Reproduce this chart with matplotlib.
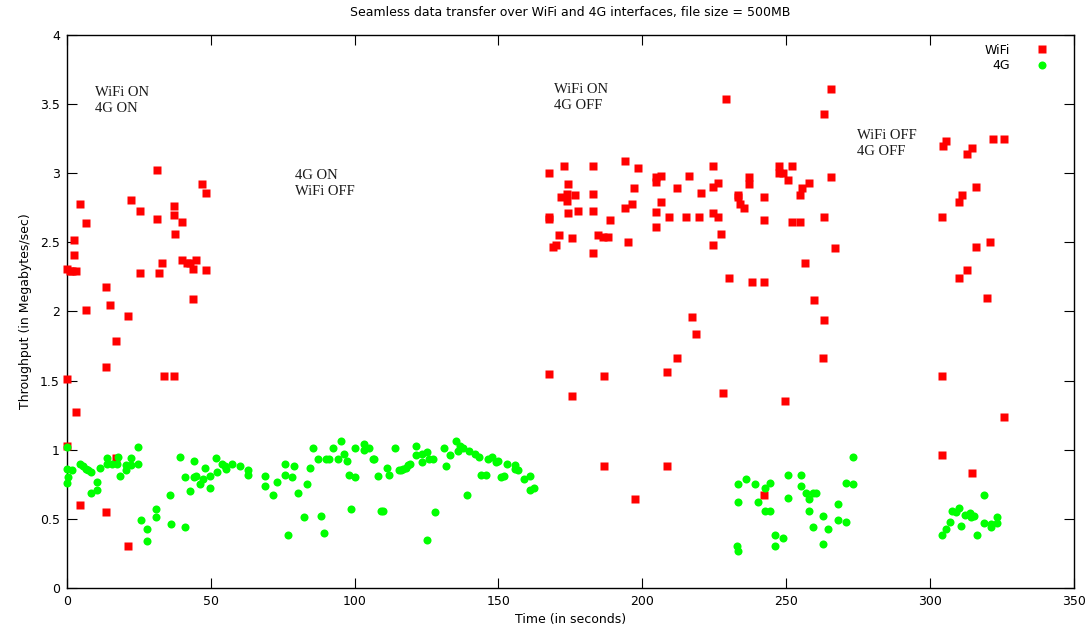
#!/usr/bin/env python3
"""Throughput scatter, WiFi vs 4G, gnuplot-like look."""

import matplotlib
matplotlib.use("Agg")
import matplotlib.pyplot as plt

# WiFi samples (time s, throughput MB/s)
wifi_t = [31.3, 46.9, 48.3, 4.5, 22.2, 25.3, 31.3, 37.2, 37.2, 39.9, 37.5, 6.6, 2.4, 2.4,
          0.0, 1.0, 1.7, 3.1, 33.0, 39.9, 41.7, 42.7, 44.8, 43.8, 48.3, 25.3, 31.9, 13.5,
          43.8, 14.9, 6.6, 21.2, 17.0, 13.5, 0.0, 33.7, 37.2, 3.1, 0.0, 17.0, 4.5, 13.5,
          21.2,
          167.7, 172.9, 183.0, 194.1, 198.6, 174.3, 204.9, 206.6, 204.9, 216.3, 197.2,
          212.2, 220.5, 171.9, 174.0, 176.7, 183.0, 174.0, 194.1, 196.5, 177.8, 183.0,
          206.6, 204.9, 167.7, 167.4, 174.3, 188.9, 209.4, 215.3, 219.8, 204.9, 171.2,
          175.7, 184.7, 186.5, 188.2, 195.1, 170.1, 168.8, 183.0, 217.4,
          265.6, 229.2, 263.2, 224.7, 247.6, 247.6, 249.0, 252.1, 237.2, 237.2, 250.7,
          258.0, 255.6, 254.9, 265.6, 226.4, 224.7, 233.3, 233.3, 234.0, 235.4, 242.4,
          224.7, 226.4, 242.4, 252.1, 254.9, 263.2, 227.4, 224.7, 267.0, 256.6, 230.2,
          238.2, 242.4, 259.7, 263.2,
          218.8, 212.2, 262.8, 167.4, 186.8, 208.7, 175.7, 228.1, 249.7, 186.8, 208.7,
          197.6, 242.4,
          305.6, 304.5, 321.9, 325.7, 314.6, 312.8, 316.0, 311.1, 310.1, 304.2, 320.8,
          316.0, 312.8, 310.1, 319.8, 304.2, 325.7, 304.2, 314.6]
wifi_v = [3.02, 2.92, 2.86, 2.78, 2.81, 2.73, 2.67, 2.76, 2.70, 2.65, 2.56, 2.64, 2.52, 2.41,
          2.31, 2.29, 2.29, 2.29, 2.35, 2.37, 2.35, 2.35, 2.37, 2.31, 2.30, 2.28, 2.28, 2.18,
          2.09, 2.05, 2.01, 1.97, 1.79, 1.60, 1.51, 1.53, 1.53, 1.27, 1.03, 0.94, 0.60, 0.55,
          0.30,
          3.00, 3.05, 3.05, 3.09, 3.04, 2.92, 2.97, 2.98, 2.94, 2.98, 2.89,
          2.89, 2.86, 2.83, 2.85, 2.84, 2.85, 2.80, 2.75, 2.78, 2.73, 2.73,
          2.79, 2.72, 2.68, 2.67, 2.71, 2.66, 2.68, 2.68, 2.68, 2.61, 2.55,
          2.53, 2.55, 2.54, 2.54, 2.50, 2.48, 2.47, 2.42, 1.96,
          3.61, 3.54, 3.43, 3.05, 3.05, 3.00, 3.00, 3.05, 2.97, 2.92, 2.95,
          2.93, 2.89, 2.84, 2.97, 2.93, 2.90, 2.84, 2.83, 2.78, 2.75, 2.83,
          2.71, 2.68, 2.66, 2.65, 2.65, 2.68, 2.56, 2.48, 2.46, 2.35, 2.24,
          2.21, 2.21, 2.08, 1.94,
          1.84, 1.66, 1.66, 1.55, 1.53, 1.56, 1.39, 1.41, 1.35, 0.88, 0.88,
          0.64, 0.67,
          3.23, 3.20, 3.25, 3.25, 3.18, 3.14, 2.90, 2.84, 2.79, 2.68, 2.50,
          2.47, 2.30, 2.24, 2.10, 1.53, 1.24, 0.96, 0.83]

# 4G samples (time s, throughput MB/s)
lte_t = [0.0, 24.7, 39.2, 17.7, 13.9, 13.9, 15.6, 17.4, 22.2, 24.7, 4.5, 5.6, 6.6, 7.3,
         8.3, 11.5, 0.0, 1.7, 0.3, 0.0, 20.5, 22.2, 20.5, 18.4, 10.4, 10.4, 8.3, 44.1,
         41.0, 44.1, 44.8, 47.9, 51.7, 53.8, 54.9, 55.2, 57.3, 52.1, 49.7, 47.2, 46.2,
         49.7, 42.7, 35.8, 30.9, 30.9, 25.7, 36.1, 41.0, 27.8, 27.8,
         60.1, 62.8, 62.8, 68.8, 68.8, 71.5, 72.9, 75.7, 75.7, 78.1, 78.8, 80.2, 83.3,
         84.4, 85.4, 87.2, 89.9, 91.0, 92.4, 94.1, 95.1, 96.2, 97.2, 97.9, 100.3, 100.3,
         103.1, 103.1, 104.9, 106.3, 106.9, 108.0, 111.1, 111.8, 113.9, 115.3, 82.3,
         88.2, 98.6, 109.0, 109.7, 76.7, 89.2,
         116.0, 116.7, 117.7, 118.4, 119.1, 121.5, 121.5, 123.3, 125.0, 123.3, 126.0,
         127.1, 130.9, 131.9, 133.3, 135.1, 136.8, 137.8, 136.1, 139.6, 141.7, 143.1,
         144.1, 145.5, 146.2, 147.6, 149.0, 150.0, 153.1, 155.6, 155.6, 156.9, 151.0,
         152.1, 159.0, 161.1, 161.1, 162.5, 138.9, 128.1, 125.0,
         273.3, 233.3, 236.1, 239.2, 244.4, 242.7, 250.7, 255.2, 255.2, 256.9, 259.4,
         260.4, 258.0, 250.7, 233.3, 240.3, 242.7, 244.4, 258.0, 270.8, 273.3, 268.1,
         262.8, 268.1, 270.8, 259.4, 264.6, 246.2, 248.9, 262.8, 246.2, 233.0, 233.3,
         318.8, 307.6, 309.0, 310.1, 312.2, 313.9, 314.2, 315.3, 306.9, 305.6, 304.2,
         310.8, 316.3, 318.8, 321.2, 321.2, 323.3, 323.3]
lte_v = [1.02, 1.02, 0.95, 0.95, 0.94, 0.90, 0.90, 0.90, 0.94, 0.90, 0.90, 0.88, 0.86, 0.85,
         0.84, 0.87, 0.86, 0.85, 0.80, 0.76, 0.89, 0.89, 0.85, 0.81, 0.77, 0.71, 0.69, 0.92,
         0.80, 0.80, 0.81, 0.87, 0.94, 0.90, 0.88, 0.86, 0.90, 0.84, 0.81, 0.79, 0.75,
         0.72, 0.70, 0.67, 0.57, 0.51, 0.49, 0.46, 0.44, 0.43, 0.34,
         0.88, 0.85, 0.82, 0.81, 0.74, 0.67, 0.77, 0.90, 0.82, 0.80, 0.88, 0.69, 0.75,
         0.87, 1.01, 0.93, 0.93, 0.93, 1.01, 0.93, 1.06, 0.97, 0.92, 0.82, 1.01, 0.80,
         1.04, 1.00, 1.01, 0.93, 0.93, 0.81, 0.87, 0.82, 1.01, 0.85, 0.51,
         0.52, 0.57, 0.56, 0.56, 0.38, 0.40,
         0.85, 0.86, 0.87, 0.89, 0.90, 1.03, 0.96, 0.97, 0.98, 0.91, 0.93,
         0.93, 1.01, 0.88, 0.96, 1.06, 1.03, 1.01, 0.99, 0.99, 0.97, 0.95,
         0.82, 0.82, 0.93, 0.95, 0.91, 0.92, 0.90, 0.89, 0.86, 0.85, 0.80,
         0.81, 0.79, 0.81, 0.71, 0.72, 0.67, 0.55, 0.35,
         0.95, 0.75, 0.79, 0.75, 0.76, 0.72, 0.82, 0.82, 0.74, 0.69, 0.69,
         0.69, 0.64, 0.65, 0.62, 0.62, 0.56, 0.56, 0.56, 0.76, 0.75, 0.61,
         0.52, 0.49, 0.48, 0.44, 0.43, 0.38, 0.36, 0.32, 0.30, 0.30, 0.27,
         0.67, 0.56, 0.55, 0.58, 0.53, 0.54, 0.51, 0.52, 0.48, 0.43, 0.38,
         0.45, 0.38, 0.47, 0.46, 0.44, 0.51, 0.47]

# phase labels: (x, y, text)
phase_x = [9.7, 79.2, 169.4, 274.7]
phase_y = [3.63, 3.03, 3.65, 3.32]
phase_txt = ["WiFi ON\n4G ON", "4G ON\nWiFi OFF", "WiFi ON\n4G OFF", "WiFi OFF\n4G OFF"]

fig = plt.figure(figsize=(10.89, 6.37), dpi=100)
ax = fig.add_axes([0.0615, 0.077, 0.9245, 0.868])

# gnuplot draws edge points whole, so no clipping at the frame
ax.plot(wifi_t, wifi_v, "s", ms=5.2, color="#ff0000", mec="none", label="WiFi",
        clip_on=False, zorder=3)
ax.plot(lte_t, lte_v, "o", ms=5.8, color="#00ff00", mec="none", label="4G",
        clip_on=False, zorder=3)

for x, y, s in zip(phase_x, phase_y, phase_txt):
    ax.text(x, y, s, ha="left", va="top", fontsize=10.5,
            family="Liberation Serif", linespacing=1.25, color="#1a1a1a")

ax.set_xlim(0, 350)
ax.set_ylim(0, 4)
ax.set_xticks(range(0, 351, 50))
ax.set_yticks([0, 0.5, 1, 1.5, 2, 2.5, 3, 3.5, 4])
ax.set_yticklabels(["0", "0.5", "1", "1.5", "2", "2.5", "3", "3.5", "4"])
ax.tick_params(direction="in", length=7, width=0.8, top=True, right=True,
               labelsize=9, pad=5)
for sp in ax.spines.values():
    sp.set_linewidth(1.0)

ax.set_xlabel("Time (in seconds)", fontsize=9, labelpad=4)
ax.set_ylabel("Throughput (in Megabytes/sec)", fontsize=9, labelpad=6)
ax.set_title("Seamless data transfer over WiFi and 4G interfaces, file size = 500MB",
             fontsize=9, pad=14)

ax.legend(loc="upper right", frameon=False, markerfirst=False, fontsize=9,
          handletextpad=1.6, borderaxespad=0.3, labelspacing=0.2,
          bbox_to_anchor=(0.99, 1.0))

fig.savefig("out.png")
